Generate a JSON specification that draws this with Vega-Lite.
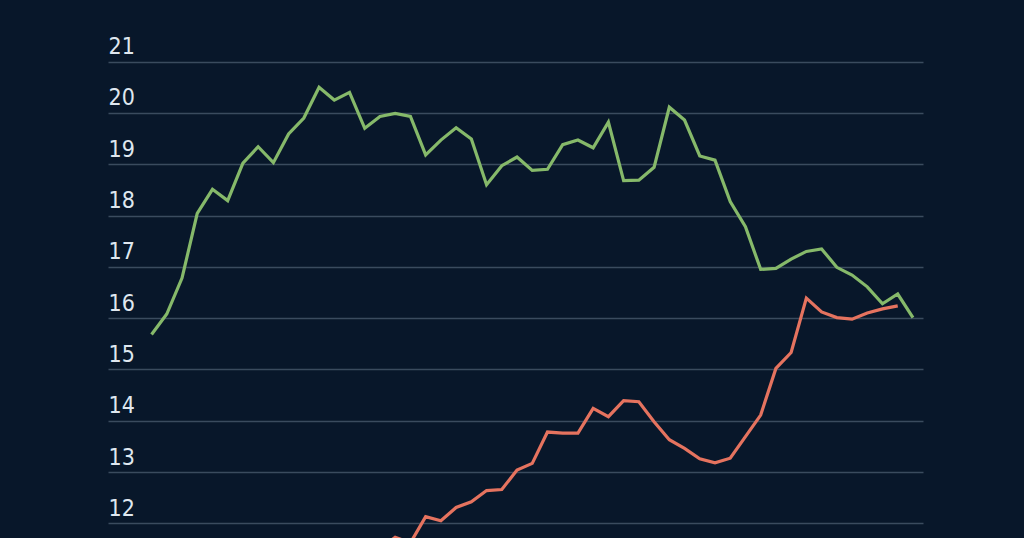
{
  "$schema": "https://vega.github.io/schema/vega-lite/v6.json",
  "width": 815,
  "height": 538,
  "autosize": {"type": "none"},
  "padding": {"left": 108, "right": 101, "top": 0, "bottom": 0},
  "background": "#08172a",
  "config": {"view": {"stroke": null}},
  "data": {"values": [
    {"t": 0, "series": "green", "v": 15.68},
    {"t": 1, "series": "green", "v": 16.08},
    {"t": 2, "series": "green", "v": 16.78},
    {"t": 3, "series": "green", "v": 18.04},
    {"t": 4, "series": "green", "v": 18.51},
    {"t": 5, "series": "green", "v": 18.29},
    {"t": 6, "series": "green", "v": 19.02},
    {"t": 7, "series": "green", "v": 19.34},
    {"t": 8, "series": "green", "v": 19.03},
    {"t": 9, "series": "green", "v": 19.59},
    {"t": 10, "series": "green", "v": 19.9},
    {"t": 11, "series": "green", "v": 20.5},
    {"t": 12, "series": "green", "v": 20.25},
    {"t": 13, "series": "green", "v": 20.4},
    {"t": 14, "series": "green", "v": 19.7},
    {"t": 15, "series": "green", "v": 19.93},
    {"t": 16, "series": "green", "v": 19.99},
    {"t": 17, "series": "green", "v": 19.93},
    {"t": 18, "series": "green", "v": 19.18},
    {"t": 19, "series": "green", "v": 19.47},
    {"t": 20, "series": "green", "v": 19.71},
    {"t": 21, "series": "green", "v": 19.49},
    {"t": 22, "series": "green", "v": 18.6},
    {"t": 23, "series": "green", "v": 18.97},
    {"t": 24, "series": "green", "v": 19.14},
    {"t": 25, "series": "green", "v": 18.88},
    {"t": 26, "series": "green", "v": 18.9},
    {"t": 27, "series": "green", "v": 19.38},
    {"t": 28, "series": "green", "v": 19.47},
    {"t": 29, "series": "green", "v": 19.32},
    {"t": 30, "series": "green", "v": 19.82},
    {"t": 31, "series": "green", "v": 18.68},
    {"t": 32, "series": "green", "v": 18.69},
    {"t": 33, "series": "green", "v": 18.94},
    {"t": 34, "series": "green", "v": 20.11},
    {"t": 35, "series": "green", "v": 19.86},
    {"t": 36, "series": "green", "v": 19.16},
    {"t": 37, "series": "green", "v": 19.08},
    {"t": 38, "series": "green", "v": 18.27},
    {"t": 39, "series": "green", "v": 17.78},
    {"t": 40, "series": "green", "v": 16.95},
    {"t": 41, "series": "green", "v": 16.97},
    {"t": 42, "series": "green", "v": 17.15},
    {"t": 43, "series": "green", "v": 17.3},
    {"t": 44, "series": "green", "v": 17.35},
    {"t": 45, "series": "green", "v": 16.99},
    {"t": 46, "series": "green", "v": 16.84},
    {"t": 47, "series": "green", "v": 16.61},
    {"t": 48, "series": "green", "v": 16.28},
    {"t": 49, "series": "green", "v": 16.47},
    {"t": 50, "series": "green", "v": 16.01},
    {"t": 15, "series": "red", "v": 11.5},
    {"t": 16, "series": "red", "v": 11.73},
    {"t": 17, "series": "red", "v": 11.62},
    {"t": 18, "series": "red", "v": 12.13},
    {"t": 19, "series": "red", "v": 12.05},
    {"t": 20, "series": "red", "v": 12.31},
    {"t": 21, "series": "red", "v": 12.42},
    {"t": 22, "series": "red", "v": 12.64},
    {"t": 23, "series": "red", "v": 12.66},
    {"t": 24, "series": "red", "v": 13.04},
    {"t": 25, "series": "red", "v": 13.17},
    {"t": 26, "series": "red", "v": 13.78},
    {"t": 27, "series": "red", "v": 13.76},
    {"t": 28, "series": "red", "v": 13.76},
    {"t": 29, "series": "red", "v": 14.24},
    {"t": 30, "series": "red", "v": 14.08},
    {"t": 31, "series": "red", "v": 14.39},
    {"t": 32, "series": "red", "v": 14.37},
    {"t": 33, "series": "red", "v": 13.98},
    {"t": 34, "series": "red", "v": 13.63},
    {"t": 35, "series": "red", "v": 13.46},
    {"t": 36, "series": "red", "v": 13.26},
    {"t": 37, "series": "red", "v": 13.18},
    {"t": 38, "series": "red", "v": 13.27},
    {"t": 39, "series": "red", "v": 13.69},
    {"t": 40, "series": "red", "v": 14.11},
    {"t": 41, "series": "red", "v": 15.02},
    {"t": 42, "series": "red", "v": 15.33},
    {"t": 43, "series": "red", "v": 16.39},
    {"t": 44, "series": "red", "v": 16.12},
    {"t": 45, "series": "red", "v": 16.01},
    {"t": 46, "series": "red", "v": 15.98},
    {"t": 47, "series": "red", "v": 16.1},
    {"t": 48, "series": "red", "v": 16.18},
    {"t": 49, "series": "red", "v": 16.24}
  ]},
  "mark": {"type": "line", "strokeWidth": 3.2, "clip": true, "strokeJoin": "miter"},
  "encoding": {
    "x": {"field": "t", "type": "quantitative", "scale": {"domain": [-2.86, 50.66], "nice": false, "zero": false}, "axis": null},
    "y": {
      "field": "v", "type": "quantitative",
      "scale": {"domain": [11.715, 22.2], "nice": false, "zero": false},
      "axis": {
        "values": [12, 13, 14, 15, 16, 17, 18, 19, 20, 21],
        "grid": true, "gridColor": "#3a4b5e", "gridWidth": 1.5,
        "domain": false, "ticks": false, "tickSize": 0,
        "labelAlign": "left", "labelBaseline": "alphabetic", "labelPadding": 0, "labelOffset": -8,
        "labelFlush": false, "labelOverlap": false,
        "labelFont": "'Liberation Sans Narrow', 'DejaVu Sans Condensed', sans-serif", "labelFontSize": 23, "labelColor": "#dfe7ef",
        "title": null
      }
    },
    "color": {"field": "series", "type": "nominal", "scale": {"domain": ["green", "red"], "range": ["#86b96a", "#e5735f"]}, "legend": null}
  }
}
